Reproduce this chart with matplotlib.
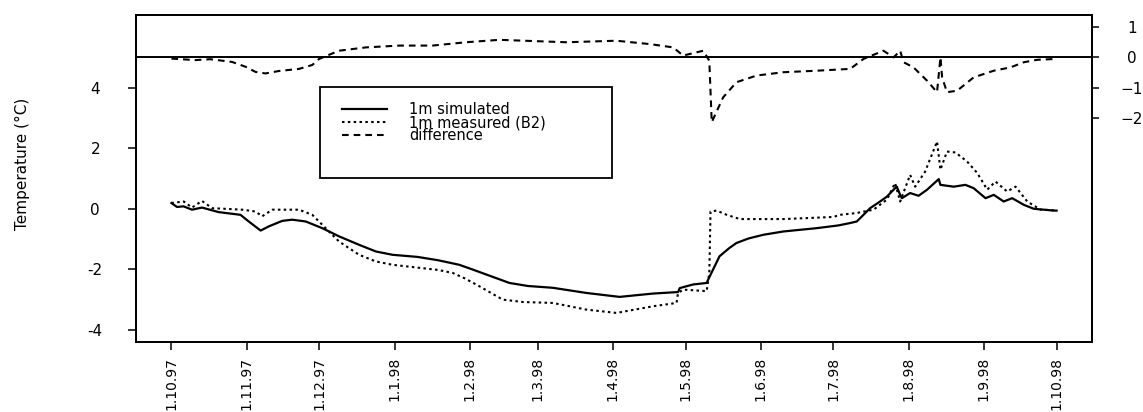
import matplotlib
matplotlib.use("Agg")
import matplotlib.pyplot as plt
from matplotlib.patches import Rectangle

# x values: days since 1.10.97
sim_day = [0, 2.3, 5, 8.5, 12.6, 19.5, 28.5, 31.9, 36.8, 40.2, 45.7, 49.8, 55.4, 62.2, 69.1,
           77.4, 84.3, 91.2, 101.5, 110, 118.7, 124, 129.8, 139.4, 147, 157.3, 171.1, 184.8,
           198.6, 208.9, 209.6, 215.1, 220.7, 222, 226, 230, 233, 238, 244, 252.3, 266.1, 275,
           279.9, 282.6, 284, 288.1, 292.2, 295, 298.4, 299.1, 300.5, 301.2, 304.6, 308.1,
           311.6, 316.4, 317.1, 322.6, 327.4, 330.8, 335.7, 339.1, 343.2, 346.7, 351.5, 355.6,
           363.8, 365]
sim_temp = [0.19, 0.06, 0.08, -0.03, 0.04, -0.11, -0.20, -0.42, -0.72, -0.58, -0.40, -0.36,
            -0.42, -0.64, -0.91, -1.19, -1.41, -1.52, -1.59, -1.70, -1.85, -2.00, -2.17, -2.45,
            -2.55, -2.61, -2.78, -2.91, -2.80, -2.75, -2.62, -2.50, -2.45, -2.23, -1.57, -1.30,
            -1.13, -0.98, -0.86, -0.75, -0.64, -0.55, -0.47, -0.42, -0.31, 0.02, 0.24, 0.40,
            0.68, 0.73, 0.46, 0.35, 0.52, 0.43, 0.63, 0.98, 0.79, 0.73, 0.79, 0.68, 0.35, 0.46,
            0.24, 0.35, 0.13, 0.0, -0.06, -0.06]

meas_day = [0, 5.1, 8.5, 12.6, 16.8, 29.2, 34.7, 37.4, 41.6, 52.6, 58.1, 63.6, 69.1, 77.4,
            84.3, 91.2, 102.2, 110, 116, 121, 127, 136.6, 145, 157.3, 171.1, 183.5, 198.6,
            208.3, 208.9, 211, 220.7, 221.8, 222.3, 224.8, 229, 234.4, 252.3, 273, 275.6,
            282.6, 289.5, 295, 298.4, 300.5, 304.6, 306.7, 310.8, 315.7, 317.1, 319.8, 323.3,
            328.1, 332.3, 336.4, 339.8, 344.6, 348.1, 352.9, 358.4, 365]
meas_temp = [0.19, 0.24, 0.04, 0.26, 0.02, -0.03, -0.09, -0.25, -0.03, -0.03, -0.20, -0.64,
             -1.08, -1.52, -1.74, -1.85, -1.95, -2.02, -2.12, -2.30, -2.56, -3.00, -3.08, -3.11,
             -3.33, -3.44, -3.22, -3.11, -2.78, -2.67, -2.72, -2.12, -0.09, -0.06, -0.20, -0.34,
             -0.34, -0.27, -0.20, -0.14, -0.03, 0.30, 0.85, 0.24, 1.12, 0.73, 1.23, 2.22, 1.29,
             1.89, 1.86, 1.56, 1.18, 0.63, 0.90, 0.57, 0.73, 0.24, -0.03, -0.05]

diff_day = [0, 9.9, 16, 25, 30.6, 34.7, 38.8, 44.3, 52.6, 58.1, 60.9, 69.1, 80.2, 94, 107.7,
            121.5, 135.3, 149, 162.8, 183.5, 197.2, 206.9, 211, 219.3, 221.8, 222.8, 227.5,
            233, 241.3, 252.3, 266.1, 279.9, 285.4, 293.6, 297.8, 300.5, 301.9, 306, 311.6,
            315.7, 317.1, 317.8, 319.8, 324, 330.8, 339.1, 346, 351.5, 357, 365]
diff_val = [-0.04, -0.09, -0.06, -0.15, -0.31, -0.48, -0.53, -0.45, -0.38, -0.25, -0.05, 0.22,
            0.33, 0.39, 0.39, 0.50, 0.58, 0.54, 0.50, 0.55, 0.44, 0.33, 0.06, 0.22, -0.11,
            -2.14, -1.32, -0.82, -0.60, -0.49, -0.44, -0.38, -0.05, 0.22, 0.0, 0.22, -0.16,
            -0.33, -0.77, -1.15, 0.0, -0.66, -1.15, -1.10, -0.66, -0.44, -0.33, -0.16, -0.08,
            -0.05]

month_tick_days = [0, 31, 61, 92, 123, 151, 182, 212, 243, 273, 304, 335, 365]
month_labels = ["1.10.97", "1.11.97", "1.12.97", "1.1.98", "1.2.98", "1.3.98", "1.4.98",
                "1.5.98", "1.6.98", "1.7.98", "1.8.98", "1.9.98", "1.10.98"]
left_ticks = [-4, -2, 0, 2, 4]
left_labels = ["-4", "-2", "0", "2", "4"]
right_ticks = [-2, -1, 0, 1]
right_labels = ["\u22122", "\u22121", "0", "1"]
legend_labels = ["1m simulated", "1m measured (B2)", "difference"]
y_label = "Temperature (\u00b0C)"

plt.rcParams['font.family'] = ['DejaVu Sans']

W, H = 1143, 412
fig = plt.figure(figsize=(W / 100, H / 100), dpi=100)
L, R, T, B = 136, 1092, 15, 342
ax = fig.add_axes([L / W, 1 - B / H, (R - L) / W, (B - T) / H])
ax.set_xlim(-14.6, 379.6)
ax.set_ylim(-4.4, 6.4)
ax2 = ax.twinx()
ax2.set_ylim(-9.4, 1.4)

h1, = ax.plot(sim_day, sim_temp, color='black', lw=1.6, solid_joinstyle='round')
h2, = ax.plot(meas_day, meas_temp, color='black', lw=1.5, dashes=(1.2, 1.6))
h3, = ax2.plot(diff_day, diff_val, color='black', lw=1.5, dashes=(3.2, 2.4))
ax2.axhline(0, color='black', lw=1.4)

for a in (ax, ax2):
    for s in a.spines.values():
        s.set_linewidth(1.3)

ax.set_xticks(month_tick_days)
ax.set_xticklabels(month_labels, rotation=90, fontsize=10)
ax.tick_params(axis='x', direction='out', length=5.8, width=1.1, pad=5)
ax.set_yticks(left_ticks)
ax.set_yticklabels(left_labels, fontsize=11)
ax.tick_params(axis='y', direction='out', length=5.8, width=1.1, pad=23.5)
for lbl in ax.get_yticklabels():
    lbl.set_horizontalalignment('center')

ax2.set_yticks(right_ticks)
ax2.set_yticklabels(right_labels, fontsize=11)
ax2.tick_params(axis='y', direction='out', length=4.8, width=1.1, pad=24)
for lbl in ax2.get_yticklabels():
    lbl.set_horizontalalignment('center')

fig.text(22.7 / W, 1 - 164 / H, y_label, rotation=90, ha='center', va='center', fontsize=11)

# legend box
ax.add_patch(Rectangle(((320 - L) / (R - L), (B - 178) / (B - T)), (612 - 320) / (R - L),
                       (178 - 87) / (B - T), transform=ax.transAxes, fill=False, lw=1.3,
                       edgecolor='black', zorder=5))
leg = ax.legend([h1, h2, h3], legend_labels, loc='center left',
                bbox_to_anchor=((342 - L) / (R - L), (B - 122.7) / (B - T)),
                frameon=False, fontsize=10.5, handlelength=3.1, handletextpad=1.5,
                borderpad=0, borderaxespad=0, labelspacing=-0.12)

fig.savefig("out.png", dpi=100)
